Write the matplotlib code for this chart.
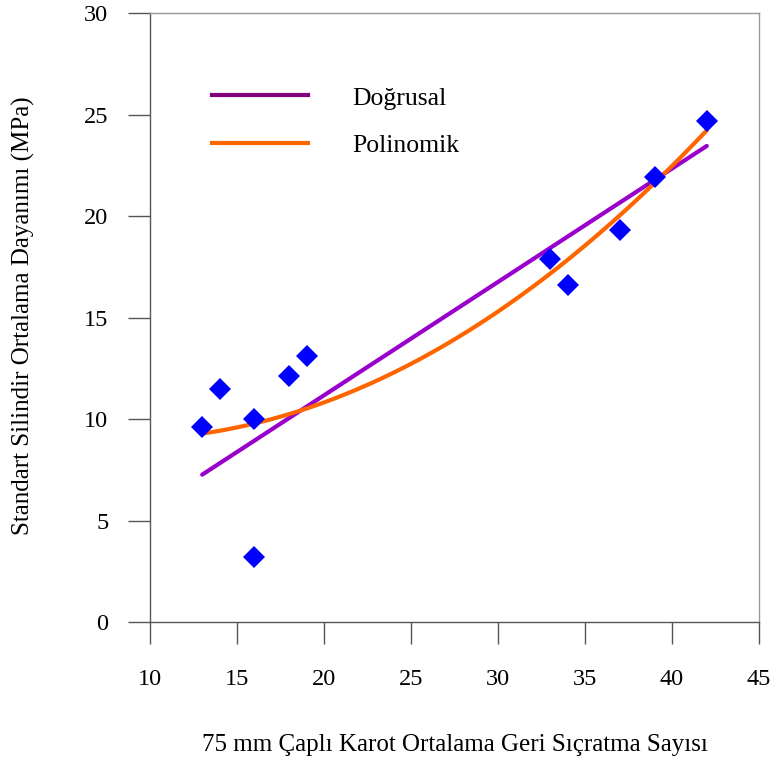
import numpy as np
import matplotlib
matplotlib.use("Agg")
import matplotlib.pyplot as plt

plt.rcParams['font.family'] = ['Liberation Serif', 'DejaVu Serif']

# measured points (rebound count vs. cylinder strength)
rebound = [13, 14, 16, 16, 18, 19, 33, 34, 37, 39, 42]
strength = [9.6, 11.5, 10.0, 3.2, 12.1, 13.1, 17.9, 16.6, 19.3, 21.9, 24.7]

x_ticks = [10, 15, 20, 25, 30, 35, 40, 45]
y_ticks = [0, 5, 10, 15, 20, 25, 30]
legend_labels = ["Doğrusal", "Polinomik"]

fig = plt.figure(figsize=(7.74, 7.65), dpi=100)
ax = fig.add_axes([0.1938, 0.1869, 0.7868, 0.7961])

# trend lines fitted to the points (linear one forced through origin)
x = np.array(rebound, dtype=float)
y = np.array(strength, dtype=float)
xs = np.linspace(x.min(), x.max(), 200)
slope = np.linalg.lstsq(x[:, None], y, rcond=None)[0][0]
poly = np.polyfit(x, y, 2)
ax.plot(xs, slope * xs, color='#9900CC', lw=3, solid_capstyle='round', zorder=2)
ax.plot(xs, np.polyval(poly, xs), color='#FF6600', lw=3, solid_capstyle='round', zorder=2)

ax.plot(rebound, strength, linestyle='none', marker='D', ms=11,
        color='#0000FF', markeredgewidth=0, zorder=3)

# hand-made legend
ax.plot([0.102, 0.259], [0.865, 0.865], transform=ax.transAxes, color='#800080', lw=3)
ax.plot([0.102, 0.259], [0.7865, 0.7865], transform=ax.transAxes, color='#FF6600', lw=3)
ax.text(0.332, 0.859, legend_labels[0], transform=ax.transAxes, va='center', fontsize=18.5)
ax.text(0.332, 0.781, legend_labels[1], transform=ax.transAxes, va='center', fontsize=18.5)

ax.set_xlim(10, 45)
ax.set_ylim(0, 30)
ax.set_xticks(x_ticks)
ax.set_yticks(y_ticks)
ax.tick_params(direction='out', length=16, width=1, colors='#555555',
               labelcolor='black', labelsize=17.5)
ax.tick_params(axis='x', pad=18)
ax.tick_params(axis='y', pad=14)
for s in ax.spines.values():
    s.set_color('#555555')
    s.set_linewidth(1)
for s in ['top', 'right']:
    ax.spines[s].set_color('#999999')

fig.text(0.588, 0.026, "75 mm Çaplı Karot Ortalama Geri Sıçratma Sayısı",
         ha='center', va='center', fontsize=18)
fig.text(0.030, 0.587, "Standart Silindir Ortalama Dayanımı (MPa)",
         ha='center', va='center', rotation=90, fontsize=18)

fig.savefig("out.png", dpi=100)
